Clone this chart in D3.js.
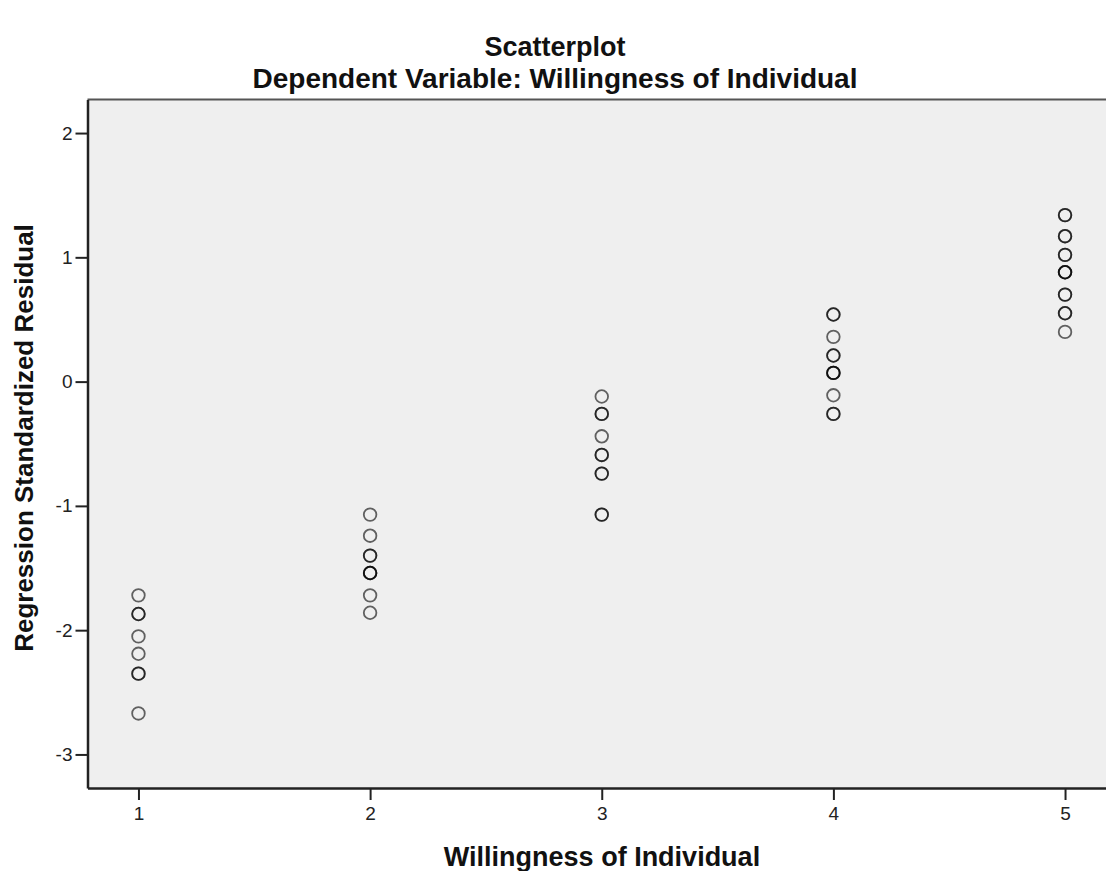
<!DOCTYPE html>
<html>
  <head>
    <meta charset="utf-8">
    <title>Scatterplot</title>
    <script src="https://d3js.org/d3.v7.min.js"></script>
    <style>
      body { margin: 0; background: #fff; }
      text { font-family: "Liberation Sans", Arial, sans-serif; }
    </style>
  </head>
  <body>
<div id="chart"></div>

<script>

// data: one column of residuals per category,
// "counts" is how many cases fall on the same spot (darker rings)
const categories = [1, 2, 3, 4, 5];
const residuals1 = [-1.72, -1.87, -2.05, -2.19, -2.35, -2.67];
const counts1    = [1, 2, 1, 1, 2, 1];
const residuals2 = [-1.07, -1.24, -1.40, -1.54, -1.72, -1.86];
const counts2    = [1, 1, 2, 3, 1, 1];
const residuals3 = [-0.12, -0.26, -0.44, -0.59, -0.74, -1.07];
const counts3    = [1, 2, 1, 2, 2, 2];
const residuals4 = [0.54, 0.36, 0.21, 0.07, -0.11, -0.26];
const counts4    = [2, 1, 2, 3, 1, 2];
const residuals5 = [1.34, 1.17, 1.02, 0.88, 0.70, 0.55, 0.40];
const counts5    = [2, 2, 2, 3, 2, 2, 1];
const yTicks = [-3, -2, -1, 0, 1, 2];

const allResiduals = [residuals1, residuals2, residuals3, residuals4, residuals5];
const allCounts = [counts1, counts2, counts3, counts4, counts5];

// one point per case, repeated points drawn on top of each other
const points = [];
categories.forEach((c, i) => {
  allResiduals[i].forEach((v, j) => {
    for (let k = 0; k < allCounts[i][j]; k++) points.push({x: c, y: v});
  });
});

const W = 1106, H = 871;
const plot = {left: 87.5, top: 99.5, right: 1116, bottom: 788};

const svg = d3.select("#chart")
  .append("svg")
    .attr("width", W)
    .attr("height", H);

const x = d3.scaleLinear()
  .domain([0.78, 5.22])
  .range([plot.left, plot.right]);

const y = d3.scaleLinear()
  .domain([-3.27, 2.27])
  .range([plot.bottom, plot.top]);

// plot background
svg.append("rect")
  .attr("x", plot.left)
  .attr("y", plot.top)
  .attr("width", plot.right - plot.left)
  .attr("height", plot.bottom - plot.top)
  .style("fill", "#efefef");

// top frame line
svg.append("line")
  .attr("x1", plot.left).attr("x2", plot.right)
  .attr("y1", plot.top).attr("y2", plot.top)
  .style("stroke", "#555")
  .style("stroke-width", 2);

const fmt = d => String(d).replace("\u2212", "-");

// x axis
const xAxis = svg.append("g")
  .attr("transform", `translate(0, ${plot.bottom})`)
  .call(d3.axisBottom(x).tickValues(categories).tickFormat(fmt)
    .tickSize(12).tickSizeOuter(0).tickPadding(7));
xAxis.select(".domain").style("stroke", "#222").style("stroke-width", 2.5);
xAxis.selectAll(".tick line").style("stroke", "#222").style("stroke-width", 2);
xAxis.selectAll(".tick text")
  .style("font-size", "19px")
  .style("font-family", "'Liberation Sans', Arial, sans-serif")
  .style("fill", "#222");

// y axis
const yAxis = svg.append("g")
  .attr("transform", `translate(${plot.left}, 0)`)
  .call(d3.axisLeft(y).tickValues(yTicks).tickFormat(fmt)
    .tickSize(12).tickSizeOuter(0).tickPadding(3));
yAxis.select(".domain").style("stroke", "#222").style("stroke-width", 2.5);
yAxis.selectAll(".tick line").style("stroke", "#222").style("stroke-width", 2);
yAxis.selectAll(".tick text")
  .style("font-size", "19px")
  .style("font-family", "'Liberation Sans', Arial, sans-serif")
  .style("fill", "#222");

// the points
svg.append("g")
  .selectAll("circle")
  .data(points)
  .join("circle")
    .attr("cx", d => x(d.x))
    .attr("cy", d => y(d.y))
    .attr("r", 6.3)
    .style("fill", "none")
    .style("stroke", "#000")
    .style("stroke-opacity", 0.6)
    .style("stroke-width", 1.8);

// titles
svg.append("text")
  .attr("x", 555)
  .attr("y", 56)
  .attr("text-anchor", "middle")
  .style("font-size", "27px")
  .style("font-weight", "bold")
  .style("fill", "#111")
  .text("Scatterplot");

svg.append("text")
  .attr("x", 555)
  .attr("y", 88)
  .attr("text-anchor", "middle")
  .style("font-size", "28px")
  .style("font-weight", "bold")
  .style("fill", "#111")
  .text("Dependent Variable: Willingness of Individual");

// axis labels
svg.append("text")
  .attr("x", 602)
  .attr("y", 866)
  .attr("text-anchor", "middle")
  .style("font-size", "27px")
  .style("font-weight", "bold")
  .style("fill", "#111")
  .text("Willingness of Individual");

svg.append("text")
  .attr("transform", `translate(33, 438) rotate(-90)`)
  .attr("text-anchor", "middle")
  .style("font-size", "26px")
  .style("font-weight", "bold")
  .style("fill", "#111")
  .text("Regression Standardized Residual");

</script>
</body>
</html>
